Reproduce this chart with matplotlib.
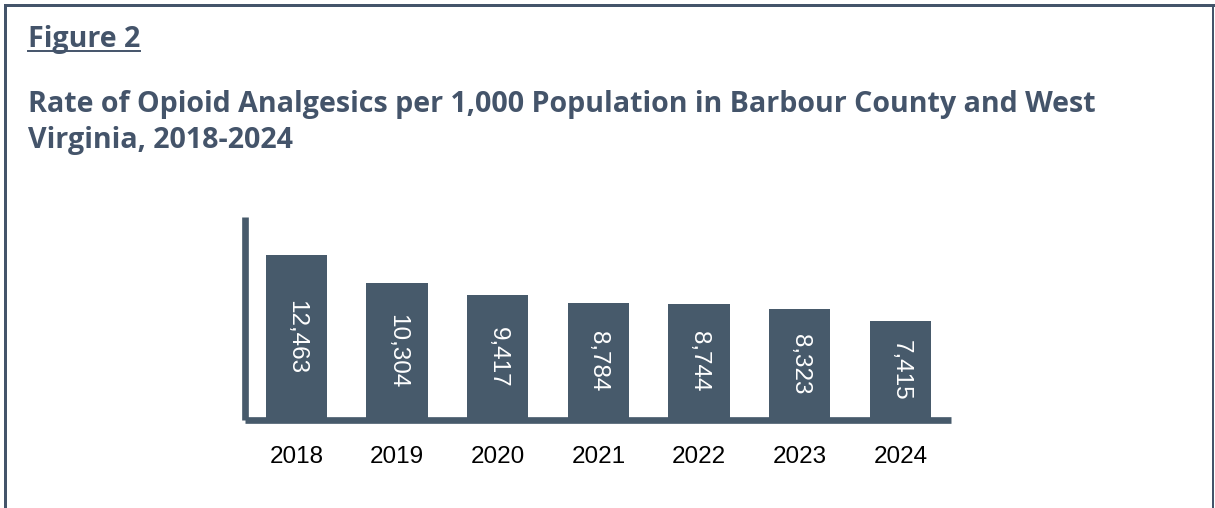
import matplotlib.pyplot as plt
from matplotlib.lines import Line2D

# data
years = ["2018", "2019", "2020", "2021", "2022", "2023", "2024"]
rates = [12463, 10304, 9417, 8784, 8744, 8323, 7415]

slate = "#44546a"
bar_color = "#475a6b"

W, H = 1215, 508
fig = plt.figure(figsize=(W / 100, H / 100), dpi=100)

# frame round the figure (bottom edge is cut off in the reference)
for xs, ys, lw in [([5 / W, 5 / W], [0, 1 - 5 / H], 3.0),
                   ([5 / W, 1 - 2 / W], [1 - 5 / H, 1 - 5 / H], 3.0),
                   ([1 - 2 / W, 1 - 2 / W], [0, 1 - 5 / H], 2.0)]:
    fig.add_artist(Line2D(xs, ys, color=slate, lw=lw * 0.72, transform=fig.transFigure))

title_kw = dict(fontsize=20.6, fontweight="bold", color=slate, family="Open Sans", va="baseline")
t1 = fig.text(28 / W, 1 - 47 / H, "Figure 2", **title_kw)
fig.text(28 / W, 1 - 112 / H,
         "Rate of Opioid Analgesics per 1,000 Population in Barbour County and West", **title_kw)
fig.text(28 / W, 1 - 148 / H, "Virginia, 2018-2024", **title_kw)

# underline under "Figure 2"
fig.canvas.draw()
bb = t1.get_window_extent(fig.canvas.get_renderer())
fig.add_artist(Line2D([bb.x0 / W, bb.x1 / W], [1 - 51 / H, 1 - 51 / H],
                      color=slate, lw=1.4, transform=fig.transFigure))

ax = fig.add_axes([245 / W, 1 - 419.5 / H, (951 - 245) / W, (419.5 - 217) / H])
x = range(len(years))
ax.bar(x, rates, width=0.61, color=bar_color, zorder=1)
for xi, v in zip(x, rates):
    ax.text(xi, v / 2, f"{v:,}", rotation=270, ha="center", va="center",
            color="white", fontsize=17.5, family="Liberation Sans")

ax.set_xlim(-0.51, 6.503)
ax.set_ylim(0, 15300)
ax.set_xticks(list(x))
ax.set_xticklabels(years, fontsize=17.5, family="Liberation Sans", color="black")
ax.tick_params(axis="x", length=0, pad=19)
ax.set_yticks([])
for s in ["top", "right"]:
    ax.spines[s].set_visible(False)
for s in ["left", "bottom"]:
    ax.spines[s].set_color(bar_color)
    ax.spines[s].set_linewidth(4.8)
    ax.spines[s].set_capstyle("butt")
    ax.spines[s].set_zorder(3)
ax.patch.set_alpha(0)

fig.savefig("out.png", dpi=100)
